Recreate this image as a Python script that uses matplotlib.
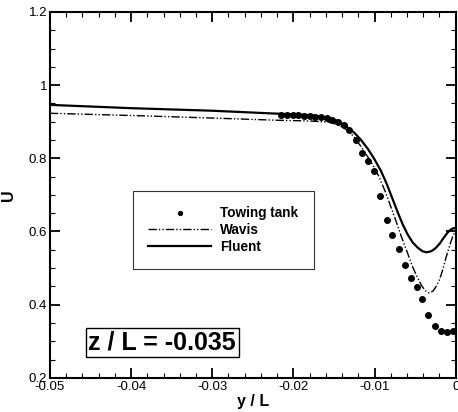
import numpy as np
import matplotlib.pyplot as plt
from matplotlib.ticker import MultipleLocator

plt.rcParams['font.family'] = ['Liberation Sans', 'DejaVu Sans']

# towing tank measurements
tank_x = [-0.0215, -0.0208, -0.0201, -0.0194, -0.0187, -0.0180, -0.0173, -0.0166,
          -0.0159, -0.0152, -0.0145, -0.0138, -0.0131, -0.0123, -0.0116, -0.0108,
          -0.0101, -0.0093, -0.0085, -0.0078, -0.0070, -0.0063, -0.0055, -0.0048,
          -0.0041, -0.0034, -0.0025, -0.0018, -0.0011, -0.0003]
tank_u = [0.918, 0.918, 0.917, 0.917, 0.916, 0.915, 0.914, 0.912,
          0.910, 0.906, 0.900, 0.891, 0.876, 0.850, 0.815, 0.793,
          0.764, 0.696, 0.631, 0.591, 0.552, 0.508, 0.473, 0.447,
          0.416, 0.372, 0.341, 0.328, 0.325, 0.328]

# Wavis
wavis_x = [-0.05, -0.04, -0.03, -0.022, -0.018, -0.0157, -0.0145, -0.0133, -0.0125,
           -0.0117, -0.0104, -0.0095, -0.0087, -0.0080, -0.0073, -0.0067, -0.0060,
           -0.0054, -0.0048, -0.0042, -0.0037, -0.0033, -0.0028, -0.0024, -0.0020,
           -0.0016, -0.0012, -0.0007, -0.0003, 0.0]
wavis_u = [0.923, 0.917, 0.910, 0.904, 0.902, 0.899, 0.892, 0.876, 0.858,
           0.833, 0.789, 0.752, 0.710, 0.668, 0.625, 0.586, 0.545,
           0.508, 0.478, 0.452, 0.437, 0.432, 0.437, 0.450, 0.468,
           0.495, 0.528, 0.565, 0.590, 0.600]

# Fluent
fluent_x = [-0.05, -0.04, -0.03, -0.022, -0.018, -0.0157, -0.0145, -0.0133, -0.0125,
            -0.0117, -0.0108, -0.0100, -0.0092, -0.0085, -0.0078, -0.0071, -0.0065,
            -0.0059, -0.0053, -0.0047, -0.0041, -0.0036, -0.0030, -0.0025, -0.0020,
            -0.0015, -0.0010, -0.0005, 0.0]
fluent_u = [0.946, 0.937, 0.930, 0.922, 0.918, 0.911, 0.902, 0.884, 0.870,
            0.851, 0.825, 0.797, 0.765, 0.730, 0.690, 0.650, 0.618,
            0.591, 0.570, 0.556, 0.546, 0.543, 0.546, 0.554, 0.566,
            0.582, 0.597, 0.607, 0.610]

fig = plt.figure(figsize=(4.58, 4.12), dpi=100)
ax = fig.add_axes([0.109, 0.083, 0.886, 0.888])

ax.plot(tank_x, tank_u, 'o', color='black', markersize=4, label='Towing tank', clip_on=False)
ax.plot(wavis_x, wavis_u, color='black', lw=1.0, dashes=(6, 1.5, 1, 1.5, 1, 1.5), label='Wavis')
ax.plot(fluent_x, fluent_u, color='black', lw=1.6, label='Fluent')

ax.set_xlim(-0.05, 0)
ax.set_ylim(0.2, 1.2)
ax.xaxis.set_major_locator(MultipleLocator(0.01))
ax.xaxis.set_minor_locator(MultipleLocator(0.002))
ax.yaxis.set_major_locator(MultipleLocator(0.2))
ax.yaxis.set_minor_locator(MultipleLocator(0.05))
ax.set_xticks([-0.05, -0.04, -0.03, -0.02, -0.01, 0])
ax.set_xticklabels(['-0.05', '-0.04', '-0.03', '-0.02', '-0.01', '0'])
ax.set_yticks([0.2, 0.4, 0.6, 0.8, 1.0, 1.2])
ax.set_yticklabels(['0.2', '0.4', '0.6', '0.8', '1', '1.2'])
ax.tick_params(which='major', direction='in', length=7, width=1.3, labelsize=9.5,
               top=True, right=True, pad=2)
ax.tick_params(which='minor', direction='in', length=3.5, width=0.8, top=True, right=True)
for s in ax.spines.values():
    s.set_linewidth(1.5)

ax.set_xlabel('y / L', fontsize=11.5, fontweight='bold', labelpad=1)
ax.set_ylabel('U', fontsize=11.5, fontweight='bold', labelpad=9)

leg = ax.legend(loc='upper left', bbox_to_anchor=(0.187, 0.530), frameon=True, fancybox=False,
                edgecolor='black', prop={'weight': 'bold', 'size': 9.8}, handlelength=4.6,
                labelspacing=0.2, borderpad=1.15, handletextpad=0.7, markerscale=0.7)
leg.get_frame().set_linewidth(0.8)

ax.text(0.095, 0.065, 'z / L = -0.035', transform=ax.transAxes, fontsize=18, fontweight='bold',
        va='bottom', ha='left',
        bbox=dict(boxstyle='square,pad=0.1', facecolor='white', edgecolor='black', linewidth=1.0))

fig.savefig('out.png', dpi=100)
